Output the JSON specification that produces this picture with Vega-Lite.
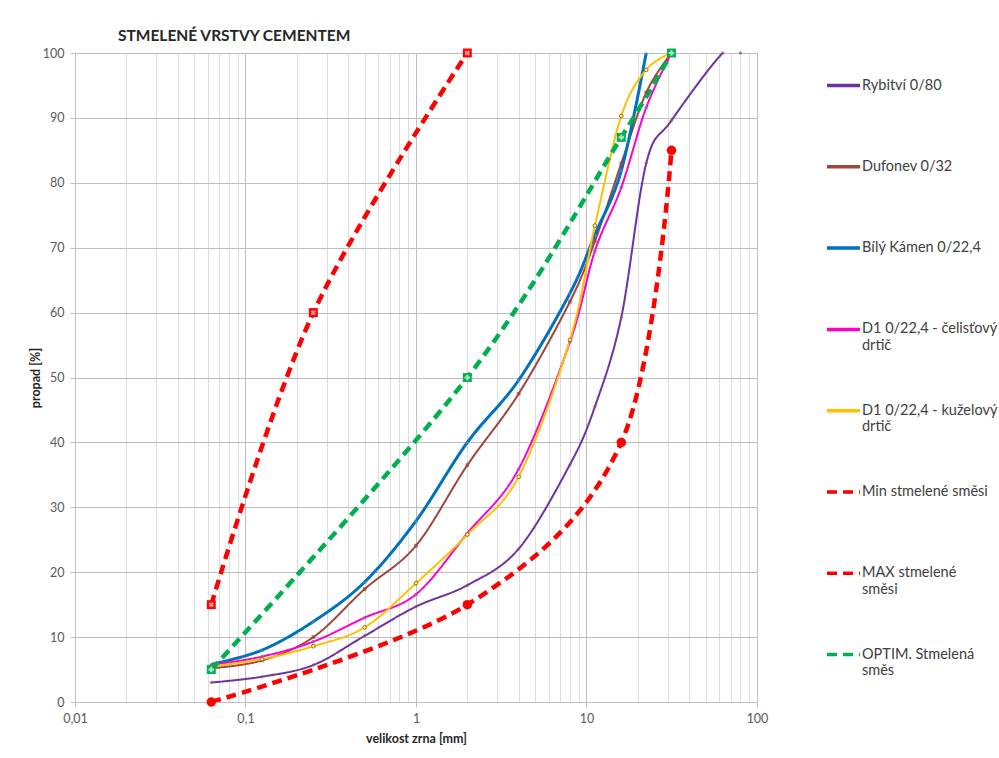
{
  "$schema": "https://vega.github.io/schema/vega-lite/v6.json",
  "width": 682,
  "height": 649,
  "autosize": {"type": "none"},
  "padding": {"left": 75, "top": 53, "right": 242, "bottom": 56},
  "background": "white",
  "title": {"text": "STMELENÉ VRSTVY CEMENTEM", "anchor": "start", "frame": "group", "dx": 43, "offset": 3, "fontSize": 15.5, "font": "Lato", "fontWeight": "bold", "color": "#262626"},
  "config": {
    "font": "Lato",
    "view": {"stroke": null},
    "axis": {"labelColor": "#595959", "labelFontSize": 12.5, "labelFont": "Lato", "titleFont": "Lato", "titleFontSize": 12.5, "titleFontWeight": "bold", "titleColor": "#262626", "domainColor": "#BFBFBF", "tickColor": "#BFBFBF", "gridColor": "#BFBFBF", "tickSize": 5},
    "legend": {"orient": "none", "legendX": 750, "legendY": 14, "symbolType": "stroke", "symbolSize": 1089, "symbolStrokeWidth": 3.5, "labelFont": "Lato", "labelFontSize": 14.5, "labelColor": "#404040", "labelLimit": 400, "labelOffset": 0, "rowPadding": 39.3}
  },
  "data": {"values": [
    {"s": "Rybitví 0/80", "x": 0.063, "y": 3},
    {"s": "Rybitví 0/80", "x": 0.125, "y": 3.9},
    {"s": "Rybitví 0/80", "x": 0.25, "y": 5.7},
    {"s": "Rybitví 0/80", "x": 0.5, "y": 10.2},
    {"s": "Rybitví 0/80", "x": 1, "y": 14.7},
    {"s": "Rybitví 0/80", "x": 2, "y": 18},
    {"s": "Rybitví 0/80", "x": 4, "y": 23.6},
    {"s": "Rybitví 0/80", "x": 8, "y": 36.6},
    {"s": "Rybitví 0/80", "x": 11.2, "y": 45.5},
    {"s": "Rybitví 0/80", "x": 16, "y": 59.3},
    {"s": "Rybitví 0/80", "x": 22.4, "y": 83},
    {"s": "Rybitví 0/80", "x": 31.5, "y": 89.6},
    {"s": "Rybitví 0/80", "x": 63, "y": 100},
    {"s": "Rybitví 0/80", "x": 80, "y": 100},
    {"s": "Dufonev 0/32", "x": 0.063, "y": 5.2},
    {"s": "Dufonev 0/32", "x": 0.125, "y": 6.4},
    {"s": "Dufonev 0/32", "x": 0.25, "y": 10},
    {"s": "Dufonev 0/32", "x": 0.5, "y": 17.4},
    {"s": "Dufonev 0/32", "x": 1, "y": 24.1},
    {"s": "Dufonev 0/32", "x": 2, "y": 36.5},
    {"s": "Dufonev 0/32", "x": 4, "y": 47.5},
    {"s": "Dufonev 0/32", "x": 8, "y": 61.7},
    {"s": "Dufonev 0/32", "x": 11.2, "y": 71},
    {"s": "Dufonev 0/32", "x": 16, "y": 83},
    {"s": "Dufonev 0/32", "x": 22.4, "y": 93.9},
    {"s": "Dufonev 0/32", "x": 31.5, "y": 100},
    {"s": "Bílý Kámen 0/22,4", "x": 0.063, "y": 5.8},
    {"s": "Bílý Kámen 0/22,4", "x": 0.125, "y": 8},
    {"s": "Bílý Kámen 0/22,4", "x": 0.25, "y": 12.4},
    {"s": "Bílý Kámen 0/22,4", "x": 0.5, "y": 18.5},
    {"s": "Bílý Kámen 0/22,4", "x": 1, "y": 27.9},
    {"s": "Bílý Kámen 0/22,4", "x": 2, "y": 40},
    {"s": "Bílý Kámen 0/22,4", "x": 4, "y": 49.6},
    {"s": "Bílý Kámen 0/22,4", "x": 8, "y": 63},
    {"s": "Bílý Kámen 0/22,4", "x": 11.2, "y": 72},
    {"s": "Bílý Kámen 0/22,4", "x": 16, "y": 81.9},
    {"s": "Bílý Kámen 0/22,4", "x": 22.4, "y": 100},
    {"s": "D1 0/22,4 - čelisťový drtič", "x": 0.063, "y": 5.7},
    {"s": "D1 0/22,4 - čelisťový drtič", "x": 0.125, "y": 7},
    {"s": "D1 0/22,4 - čelisťový drtič", "x": 0.25, "y": 9.3},
    {"s": "D1 0/22,4 - čelisťový drtič", "x": 0.5, "y": 13},
    {"s": "D1 0/22,4 - čelisťový drtič", "x": 1, "y": 16.6},
    {"s": "D1 0/22,4 - čelisťový drtič", "x": 2, "y": 26},
    {"s": "D1 0/22,4 - čelisťový drtič", "x": 4, "y": 35.9},
    {"s": "D1 0/22,4 - čelisťový drtič", "x": 8, "y": 55.5},
    {"s": "D1 0/22,4 - čelisťový drtič", "x": 11.2, "y": 69.5},
    {"s": "D1 0/22,4 - čelisťový drtič", "x": 16, "y": 79.3},
    {"s": "D1 0/22,4 - čelisťový drtič", "x": 22.4, "y": 91.6},
    {"s": "D1 0/22,4 - čelisťový drtič", "x": 31.5, "y": 100},
    {"s": "D1 0/22,4 - kuželový drtič", "x": 0.063, "y": 5.5},
    {"s": "D1 0/22,4 - kuželový drtič", "x": 0.125, "y": 6.6},
    {"s": "D1 0/22,4 - kuželový drtič", "x": 0.25, "y": 8.6},
    {"s": "D1 0/22,4 - kuželový drtič", "x": 0.5, "y": 11.5},
    {"s": "D1 0/22,4 - kuželový drtič", "x": 1, "y": 18.3},
    {"s": "D1 0/22,4 - kuželový drtič", "x": 2, "y": 25.8},
    {"s": "D1 0/22,4 - kuželový drtič", "x": 4, "y": 34.7},
    {"s": "D1 0/22,4 - kuželový drtič", "x": 8, "y": 55.8},
    {"s": "D1 0/22,4 - kuželový drtič", "x": 11.2, "y": 73.4},
    {"s": "D1 0/22,4 - kuželový drtič", "x": 16, "y": 90.3},
    {"s": "D1 0/22,4 - kuželový drtič", "x": 22.4, "y": 97.4},
    {"s": "D1 0/22,4 - kuželový drtič", "x": 31.5, "y": 100},
    {"s": "Min stmelené směsi", "x": 0.063, "y": 0},
    {"s": "Min stmelené směsi", "x": 2, "y": 15},
    {"s": "Min stmelené směsi", "x": 16, "y": 40},
    {"s": "Min stmelené směsi", "x": 31.5, "y": 85},
    {"s": "MAX stmelené směsi", "x": 0.063, "y": 15},
    {"s": "MAX stmelené směsi", "x": 0.25, "y": 60},
    {"s": "MAX stmelené směsi", "x": 2, "y": 100},
    {"s": "OPTIM. Stmelená směs", "x": 0.063, "y": 5},
    {"s": "OPTIM. Stmelená směs", "x": 2, "y": 50},
    {"s": "OPTIM. Stmelená směs", "x": 16, "y": 87},
    {"s": "OPTIM. Stmelená směs", "x": 31.5, "y": 100}
  ]},
  "encoding": {
    "x": {"field": "x", "type": "quantitative",
      "scale": {"type": "log", "domain": [0.01, 100]},
      "axis": {
        "title": "velikost zrna [mm]",
        "values": [0.01,0.02,0.03,0.04,0.05,0.06,0.07,0.08,0.09,0.1,0.2,0.3,0.4,0.5,0.6,0.7,0.8,0.9,1,2,3,4,5,6,7,8,9,10,20,30,40,50,60,70,80,90,100],
        "labelExpr": "datum.value == 0.01 ? '0,01' : datum.value == 0.1 ? '0,1' : datum.value == 1 ? '1' : datum.value == 10 ? '10' : datum.value == 100 ? '100' : ''",
        "labelOverlap": false, "labelFlush": false, "labelPadding": 5,
        "grid": true,
        "gridColor": {"condition": {"test": "indexof([0.01,0.1,1,10,100], datum.value) >= 0", "value": "#BFBFBF"}, "value": "#DDDDDD"},
        "tickOpacity": {"condition": {"test": "indexof([0.01,0.1,1,10,100], datum.value) >= 0", "value": 1}, "value": 0},
        "titleY": 36, "titleBaseline": "middle"
      }},
    "y": {"field": "y", "type": "quantitative",
      "scale": {"domain": [0, 100]},
      "axis": {"title": "propad [%]", "values": [0,10,20,30,40,50,60,70,80,90,100], "grid": true, "labelPadding": 6, "titleX": -40, "titleY": 324.5, "titleBaseline": "middle", "titleAngle": -90}}
  },
  "layer": [
    {
      "mark": {"type": "line", "interpolate": "cardinal", "strokeCap": "butt", "clip": true},
      "encoding": {
        "color": {"field": "s", "type": "nominal",
          "scale": {"domain": ["Rybitví 0/80", "Dufonev 0/32", "Bílý Kámen 0/22,4", "D1 0/22,4 - čelisťový drtič", "D1 0/22,4 - kuželový drtič", "Min stmelené směsi", "MAX stmelené směsi", "OPTIM. Stmelená směs"],
                    "range": ["#7030A0", "#A0453A", "#0070C0", "#FF00CC", "#FFC000", "#FF0000", "#FF0000", "#00B050"]},
          "legend": {"title": null, "symbolType": "stroke", "labelExpr": "datum.label == 'D1 0/22,4 - čelisťový drtič' ? ['D1 0/22,4 - čelisťový', 'drtič'] : datum.label == 'D1 0/22,4 - kuželový drtič' ? ['D1 0/22,4 - kuželový', 'drtič'] : datum.label == 'MAX stmelené směsi' ? ['MAX stmelené', 'směsi'] : datum.label == 'OPTIM. Stmelená směs' ? ['OPTIM. Stmelená', 'směs'] : [datum.label, ' ']"}},
        "strokeDash": {"field": "s", "type": "nominal",
          "scale": {"domain": ["Rybitví 0/80", "Dufonev 0/32", "Bílý Kámen 0/22,4", "D1 0/22,4 - čelisťový drtič", "D1 0/22,4 - kuželový drtič", "Min stmelené směsi", "MAX stmelené směsi", "OPTIM. Stmelená směs"],
                    "range": [[1,0],[1,0],[1,0],[1,0],[1,0],[10,6],[10,6],[10,6]]},
          "legend": {"title": null, "symbolType": "stroke", "labelExpr": "datum.label == 'D1 0/22,4 - čelisťový drtič' ? ['D1 0/22,4 - čelisťový', 'drtič'] : datum.label == 'D1 0/22,4 - kuželový drtič' ? ['D1 0/22,4 - kuželový', 'drtič'] : datum.label == 'MAX stmelené směsi' ? ['MAX stmelené', 'směsi'] : datum.label == 'OPTIM. Stmelená směs' ? ['OPTIM. Stmelená', 'směs'] : [datum.label, ' ']"}},
        "strokeWidth": {"condition": [
          {"test": "datum.s == 'Min stmelené směsi' || datum.s == 'MAX stmelené směsi' || datum.s == 'OPTIM. Stmelená směs'", "value": 4.5},
          {"test": "datum.s == 'Bílý Kámen 0/22,4'", "value": 3}], "value": 2}
      }
    },
    {"transform": [{"filter": "datum.s == 'Rybitví 0/80'"}],
     "mark": {"type": "point", "filled": true, "shape": "diamond", "size": 16, "color": "#A04A60"}},
    {"transform": [{"filter": "datum.s == 'Dufonev 0/32'"}],
     "mark": {"type": "point", "filled": true, "shape": "square", "size": 14, "color": "#A0453A"}},
    {"transform": [{"filter": "datum.s == 'Bílý Kámen 0/22,4'"}],
     "mark": {"type": "point", "filled": true, "shape": "triangle-up", "size": 16, "color": "#4A90C8"}},
    {"transform": [{"filter": "datum.s == 'D1 0/22,4 - čelisťový drtič'"}],
     "mark": {"type": "point", "filled": true, "shape": "circle", "size": 14, "color": "#B050C0"}},
    {"transform": [{"filter": "datum.s == 'D1 0/22,4 - kuželový drtič'"}],
     "mark": {"type": "point", "filled": false, "shape": "circle", "size": 14, "stroke": "#9C6A00", "fill": "#FFF0A0", "fillOpacity": 1, "strokeWidth": 1}},
    {"transform": [{"filter": "datum.s == 'Min stmelené směsi'"}],
     "mark": {"type": "point", "filled": true, "shape": "circle", "size": 90, "color": "#FF0000", "opacity": 1}},
    {"transform": [{"filter": "datum.s == 'MAX stmelené směsi'"}],
     "mark": {"type": "point", "filled": true, "shape": "square", "size": 80, "color": "#FF0000", "opacity": 1}},
    {"transform": [{"filter": "datum.s == 'MAX stmelené směsi'"}],
     "mark": {"type": "point", "filled": true, "shape": "cross", "angle": 45, "size": 30, "color": "#FF9090", "opacity": 1}},
    {"transform": [{"filter": "datum.s == 'OPTIM. Stmelená směs'"}],
     "mark": {"type": "point", "filled": true, "shape": "square", "size": 80, "color": "#00B050", "opacity": 1}},
    {"transform": [{"filter": "datum.s == 'OPTIM. Stmelená směs'"}],
     "mark": {"type": "point", "filled": true, "shape": "cross", "size": 30, "color": "#A8E8C0", "opacity": 1}}
  ]
}
